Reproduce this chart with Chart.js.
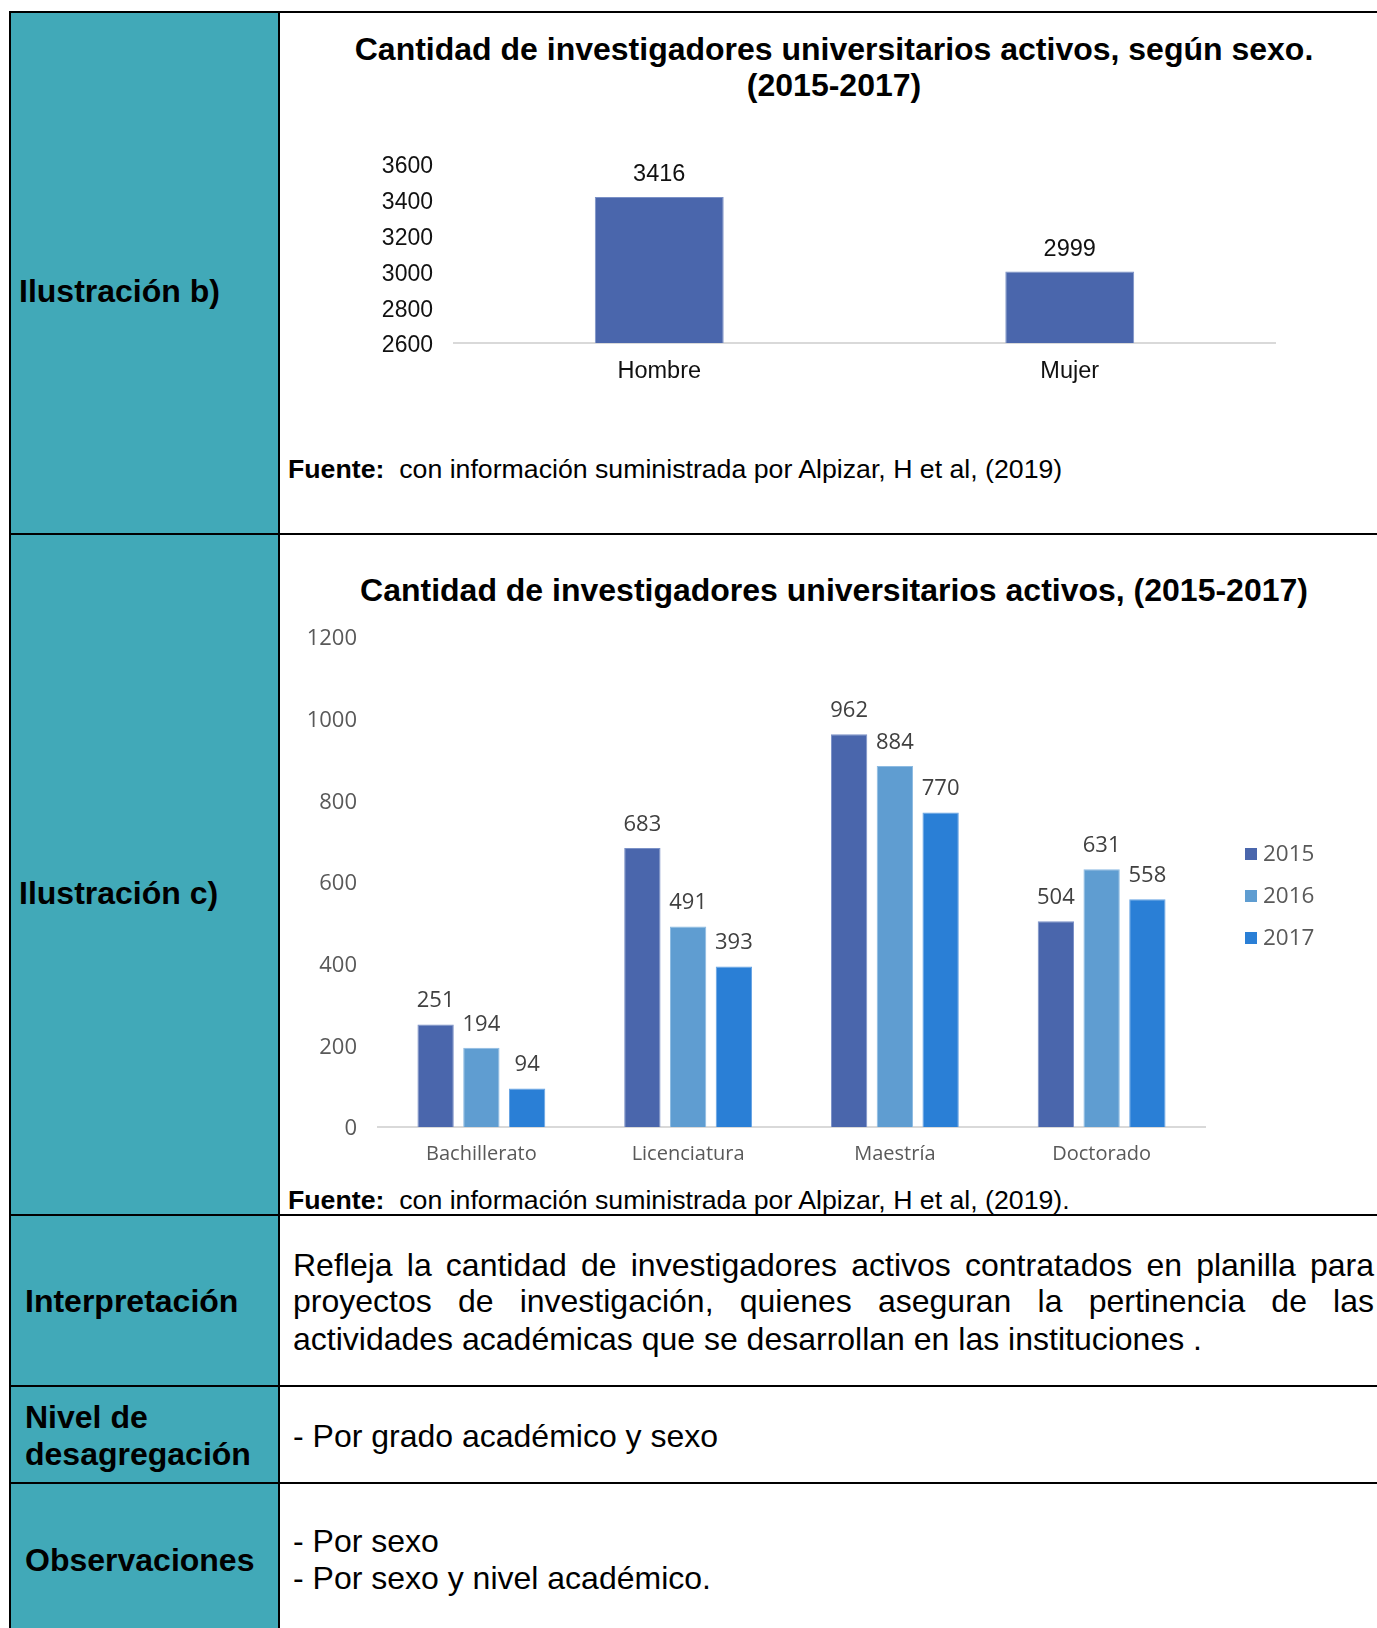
<!DOCTYPE html>
<html lang="es">
<head>
<meta charset="utf-8">
<script src="https://cdn.jsdelivr.net/npm/chart.js@4.4.1/dist/chart.umd.min.js"></script>
<style>
  html, body { margin: 0; padding: 0; background: #fff; }
  body { width: 1377px; height: 1628px; position: relative; overflow: hidden;
         font-family: "Liberation Sans", Arial, sans-serif; color: #000; }
  .abs { position: absolute; white-space: nowrap; }
  .line { position: absolute; background: #000; }
  .lab { font-weight: bold; font-size: 32px; line-height: 36px; }
  .txt { font-size: 32px; line-height: 36px; }
  .titulo { font-weight: bold; font-size: 32px; line-height: 36px; text-align: center; }
  .fuente { font-size: 26.7px; line-height: 30px; }
  .just { text-align: justify; text-align-last: justify; width: 1081px; white-space: normal; }
  canvas { position: absolute; }
</style>
</head>
<body>
<!-- fondo columna izquierda -->
<div class="abs" style="left:11px;top:13px;width:267px;height:1615px;background:#41a9b8"></div>

<!-- líneas de la tabla -->
<div class="line" style="left:9px;top:11px;width:1368px;height:2px"></div>
<div class="line" style="left:9px;top:11px;width:2px;height:1617px"></div>
<div class="line" style="left:278px;top:11px;width:2px;height:1617px"></div>
<div class="line" style="left:9px;top:533px;width:1368px;height:2px"></div>
<div class="line" style="left:9px;top:1214px;width:1368px;height:2px"></div>
<div class="line" style="left:9px;top:1385px;width:1368px;height:2px"></div>
<div class="line" style="left:9px;top:1482px;width:1368px;height:2px"></div>

<!-- etiquetas columna izquierda -->
<div class="abs lab" style="left:19px;top:273px">Ilustración b)</div>
<div class="abs lab" style="left:19px;top:875px">Ilustración c)</div>
<div class="abs lab" style="left:25px;top:1283px">Interpretación</div>
<div class="abs lab" style="left:25px;top:1399px">Nivel de</div>
<div class="abs lab" style="left:25px;top:1436px">desagregación</div>
<div class="abs lab" style="left:25px;top:1542px">Observaciones</div>

<!-- títulos y fuentes -->
<div class="abs titulo" style="left:281px;top:31px;width:1106px">Cantidad de investigadores universitarios activos, según sexo.<br>(2015-2017)</div>
<div class="abs fuente" style="left:288px;top:454px"><b>Fuente:</b>&nbsp; con información suministrada por Alpizar, H et al, (2019)</div>
<div class="abs titulo" style="left:281px;top:572px;width:1106px">Cantidad de investigadores universitarios activos, (2015-2017)</div>
<div class="abs fuente" style="left:288px;top:1185px"><b>Fuente:</b>&nbsp; con información suministrada por Alpizar, H et al, (2019).</div>

<!-- texto de filas -->
<div class="abs txt just" style="left:293px;top:1247px">Refleja la cantidad de investigadores activos contratados en planilla para</div>
<div class="abs txt just" style="left:293px;top:1283px">proyectos de investigación, quienes aseguran la pertinencia de las</div>
<div class="abs txt" style="left:293px;top:1321px">actividades académicas que se desarrollan en las instituciones .</div>
<div class="abs txt" style="left:293px;top:1418px">- Por grado académico y sexo</div>
<div class="abs txt" style="left:293px;top:1523px">- Por sexo</div>
<div class="abs txt" style="left:293px;top:1560px">- Por sexo y nivel académico.</div>

<canvas id="chartSexo" width="1096" height="290" style="left:281px;top:120px"></canvas>
<canvas id="chartGrado" width="1096" height="575" style="left:281px;top:610px"></canvas>

<script>
// ── datos ──────────────────────────────────────────────────────────────────
const sexoLabels = ['Hombre', 'Mujer'];
const sexoValores = [3416, 2999];

const grados = ['Bachillerato', 'Licenciatura', 'Maestría', 'Doctorado'];
const anios = ['2015', '2016', '2017'];
const valores2015 = [251, 683, 962, 504];
const valores2016 = [194, 491, 884, 631];
const valores2017 = [94, 393, 770, 558];

const coloresAnio = ['#4a66ac', '#5f9dd1', '#2a7fd6'];
const bordesAnio = ['#7a90c6', '#8dbbe2', '#66a3e3'];

const ARIAL = '"Liberation Sans", Arial, sans-serif';
const GOTHIC = '"Open Sans", "DejaVu Sans", sans-serif';

// etiquetas de valor sobre cada barra
const etiquetasValor = {
    id: 'etiquetasValor',
    afterDatasetsDraw(chart, args, opts) {
        const ctx = chart.ctx;
        ctx.save();
        ctx.font = opts.font;
        ctx.fillStyle = opts.color;
        ctx.textAlign = 'center';
        ctx.textBaseline = 'middle';
        chart.data.datasets.forEach(function (ds, i) {
            chart.getDatasetMeta(i).data.forEach(function (bar, j) {
                ctx.fillText(String(ds.data[j]), bar.x, bar.y - opts.offset);
            });
        });
        ctx.restore();
    },
};

// leyenda dibujada a la derecha del área del gráfico
const leyendaDerecha = {
    id: 'leyendaDerecha',
    afterDraw(chart, args, opts) {
        if (!opts.display) return;
        const ctx = chart.ctx;
        const a = chart.chartArea;
        ctx.save();
        ctx.font = opts.font;
        ctx.textBaseline = 'middle';
        ctx.textAlign = 'left';
        chart.data.datasets.forEach(function (ds, i) {
            const y = a.top + opts.top + i * opts.spacing;
            const x = a.right + opts.left;
            ctx.fillStyle = ds.backgroundColor;
            ctx.fillRect(x, y - opts.box / 2, opts.box, opts.box);
            ctx.fillStyle = opts.color;
            ctx.fillText(ds.label, x + opts.box + 6, y + 1);
        });
        ctx.restore();
    },
};

const sinSeparador = (v) => String(v);

// ── Ilustración b) ─────────────────────────────────────────────────────────
new Chart(document.getElementById('chartSexo'), {
    type: 'bar',
    data: {
        labels: sexoLabels,
        datasets: [{
            label: 'Investigadores',
            data: sexoValores,
            backgroundColor: '#4a66ac',
            borderColor: '#7a90c6',
            borderWidth: 1,
            categoryPercentage: 1,
            barPercentage: 0.314,
        }],
    },
    plugins: [etiquetasValor],
    options: {
        responsive: false,
        animation: false,
        layout: { padding: { left: 0, right: 102, top: 44, bottom: 22 } },
        plugins: {
            legend: { display: false },
            tooltip: { enabled: false },
            etiquetasValor: { font: '23.5px ' + ARIAL, color: '#111', offset: 22.5 },
        },
        scales: {
            x: {
                grid: { display: false, drawTicks: false },
                border: { display: true, color: '#d9d9d9', width: 2 },
                ticks: { color: '#111', font: { family: ARIAL, size: 23.5 }, padding: 14 },
                afterFit(s) { s.height = 45; },
            },
            y: {
                min: 2600, max: 3600,
                grid: { display: false, drawTicks: false },
                border: { display: false },
                ticks: {
                    stepSize: 200, color: '#111', font: { family: ARIAL, size: 23 },
                    padding: 21, labelOffset: 3, callback: sinSeparador,
                },
                afterFit(s) { s.width = 173; s.paddingTop = 14; s.paddingBottom = 14; },
            },
        },
    },
});

// ── Ilustración c) ─────────────────────────────────────────────────────────
const seriesGrado = [valores2015, valores2016, valores2017];

new Chart(document.getElementById('chartGrado'), {
    type: 'bar',
    data: {
        labels: grados,
        datasets: anios.map(function (anio, i) {
            return {
                label: anio,
                data: seriesGrado[i],
                backgroundColor: coloresAnio[i],
                borderColor: bordesAnio[i],
                borderWidth: 1,
                categoryPercentage: 0.664,
                barPercentage: 0.794,
            };
        }),
    },
    plugins: [etiquetasValor, leyendaDerecha],
    options: {
        responsive: false,
        animation: false,
        layout: { padding: { left: 0, right: 172, top: 27, bottom: 18 } },
        plugins: {
            legend: { display: false },
            tooltip: { enabled: false },
            etiquetasValor: { font: '22px ' + GOTHIC, color: '#404040', offset: 23.5 },
            leyendaDerecha: {
                display: true, font: '22.5px ' + GOTHIC, color: '#595959',
                left: 40, top: 217, spacing: 42, box: 12,
            },
        },
        scales: {
            x: {
                grid: { display: false, drawTicks: false },
                border: { display: true, color: '#d9d9d9', width: 2 },
                ticks: { color: '#595959', font: { family: GOTHIC, size: 20 }, padding: 15 },
                afterFit(s) { s.height = 40; },
            },
            y: {
                min: 0, max: 1200,
                grid: { display: false, drawTicks: false },
                border: { display: false },
                ticks: {
                    stepSize: 200, color: '#595959', font: { family: GOTHIC, size: 22 },
                    padding: 21, labelOffset: 2, callback: sinSeparador,
                },
                afterFit(s) { s.width = 97; s.paddingTop = 13; s.paddingBottom = 13; },
            },
        },
    },
});
</script>
</body>
</html>
